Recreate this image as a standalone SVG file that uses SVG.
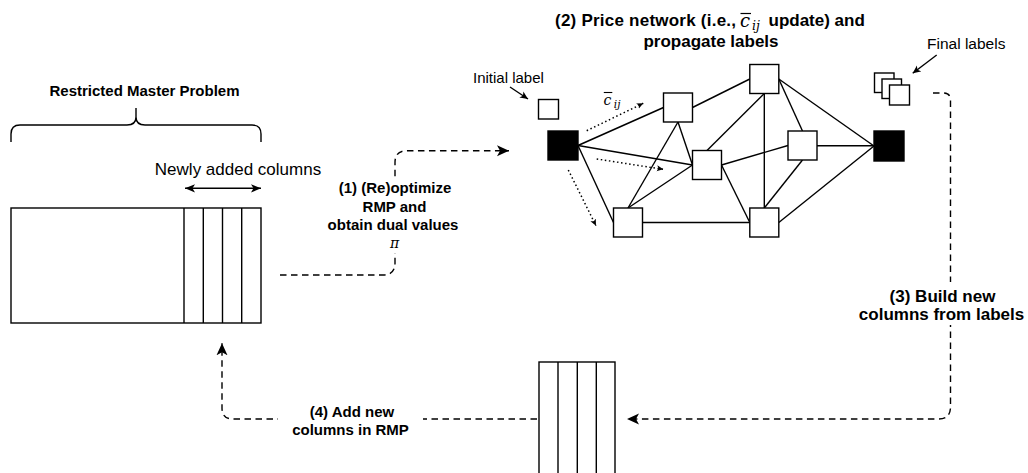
<svg xmlns="http://www.w3.org/2000/svg" width="1028" height="473" viewBox="0 0 1028 473">
<style>
.t{font-family:"Liberation Sans",Arial,Helvetica,sans-serif;fill:#000}
.b{font-weight:bold}
.m{font-family:"DejaVu Serif","Liberation Serif","Times New Roman",serif;font-style:italic;fill:#000}
.box{fill:#fff;stroke:#000;stroke-width:1.4}
.blk{fill:#000;stroke:#000;stroke-width:1.4}
.ln{fill:none;stroke:#000;stroke-width:1.4}
.edge{fill:none;stroke:#000;stroke-width:1.4}
.dash{fill:none;stroke:#000;stroke-width:1.4;stroke-dasharray:6.5 4.5}
.dot{fill:none;stroke:#000;stroke-width:1.5;stroke-dasharray:1.5 2.6}
.bg{fill:#fff;stroke:none}
</style>
<defs>
<marker id="ah" viewBox="0 0 12 12" refX="12" refY="6" markerWidth="12" markerHeight="12" markerUnits="userSpaceOnUse" orient="auto-start-reverse"><path d="M0,0.5 L12,6 L0,11.5 L3,6 Z" fill="#000"/></marker>
<marker id="ahm" viewBox="0 0 12 12" refX="12" refY="6" markerWidth="10" markerHeight="10" markerUnits="userSpaceOnUse" orient="auto-start-reverse"><path d="M0,1 L12,6 L0,11 L3,6 Z" fill="#000"/></marker>
<marker id="ahs" viewBox="0 0 12 12" refX="12" refY="6" markerWidth="8" markerHeight="8" markerUnits="userSpaceOnUse" orient="auto"><path d="M0,0.5 L12,6 L0,11.5 L3,6 Z" fill="#000"/></marker>
<marker id="ahd" viewBox="0 0 12 12" refX="12" refY="6" markerWidth="6.5" markerHeight="6.5" markerUnits="userSpaceOnUse" orient="auto"><path d="M0,0.5 L12,6 L0,11.5 L3,6 Z" fill="#000"/></marker>
</defs>

<g id="connectors">
  <!-- network edges -->
  <line class="edge" x1="578" y1="145.5" x2="663.5" y2="107.5"/>
  <line class="edge" x1="578" y1="145.5" x2="692.5" y2="165"/>
  <line class="edge" x1="578" y1="145.5" x2="613.5" y2="222.5"/>
  <line class="edge" x1="678" y1="122" x2="692.5" y2="165"/>
  <line class="edge" x1="678" y1="122" x2="628" y2="208"/>
  <line class="edge" x1="692.5" y1="165" x2="628" y2="208"/>
  <line class="edge" x1="642.5" y1="222.5" x2="749.8" y2="222.5"/>
  <line class="edge" x1="692.5" y1="107.5" x2="749.8" y2="79"/>
  <line class="edge" x1="707" y1="150.5" x2="764.3" y2="93.5"/>
  <line class="edge" x1="764.3" y1="93.5" x2="764.3" y2="208"/>
  <line class="edge" x1="778.8" y1="79" x2="802.5" y2="131"/>
  <line class="edge" x1="778.8" y1="79" x2="874" y2="146"/>
  <line class="edge" x1="721.5" y1="165" x2="788" y2="145.5"/>
  <line class="edge" x1="721.5" y1="165" x2="749.8" y2="222.5"/>
  <line class="edge" x1="817" y1="145.7" x2="874" y2="145.7"/>
  <line class="edge" x1="802.5" y1="160" x2="764.3" y2="208"/>
  <line class="edge" x1="778.8" y1="222.5" x2="874" y2="146"/>
  <!-- dotted price arrows -->
  <line class="dot" x1="586.7" y1="130.7" x2="643.3" y2="103.3" marker-end="url(#ahd)"/>
  <line class="dot" x1="596.7" y1="159" x2="663.3" y2="169.3" marker-end="url(#ahd)"/>
  <line class="dot" x1="568.3" y1="170" x2="596" y2="225.7" marker-end="url(#ahd)"/>
  <!-- pointer arrows -->
  <line class="ln" x1="510" y1="87" x2="528" y2="99" marker-end="url(#ahs)"/>
  <line class="ln" x1="936.7" y1="55" x2="912.7" y2="73.3" marker-end="url(#ahs)"/>
  <line class="ln" x1="185" y1="188.3" x2="261" y2="188.3" marker-start="url(#ahm)" marker-end="url(#ahm)"/>
  <!-- process flow -->
  <path class="dash" d="M280,275 H383 Q395,275 395,263 V162.5 Q395,150.7 407,150.7 H509" marker-end="url(#ah)"/>
  <path class="dash" d="M933,93 H943.5 Q950.5,93 950.5,100 V407 Q950.5,419 938.5,419 H627" marker-end="url(#ah)"/>
  <path class="dash" d="M537,419 H233 Q222,419 222,408 V343.3" marker-end="url(#ah)"/>
</g>

<g id="rmp">
  <rect class="box" x="11" y="208" width="250" height="115"/>
  <line class="ln" x1="184" y1="208" x2="184" y2="323"/>
  <line class="ln" x1="203.3" y1="208" x2="203.3" y2="323"/>
  <line class="ln" x1="222.5" y1="208" x2="222.5" y2="323"/>
  <line class="ln" x1="241.7" y1="208" x2="241.7" y2="323"/>
</g>

<g id="rmp-brace">
  <path class="ln" d="M11,142 V134 Q11,125 20,125 H127 Q136,125 136,117 Q136,125 145,125 H252 Q261,125 261,134 V142 M136,117 V108"/>
  <text class="t b" x="144.5" y="96" font-size="15" text-anchor="middle">Restricted Master Problem</text>
</g>

<g id="newly-added-label">
  <text class="t" x="238" y="175" font-size="17" text-anchor="middle">Newly added columns</text>
</g>

<g id="new-columns">
  <rect class="box" x="539" y="362" width="76" height="120"/>
  <line class="ln" x1="558" y1="362" x2="558" y2="482"/>
  <line class="ln" x1="577.3" y1="362" x2="577.3" y2="482"/>
  <line class="ln" x1="596.3" y1="362" x2="596.3" y2="482"/>
</g>

<g id="network-title">
  <text class="t b" x="555" y="26" font-size="17" textLength="181" lengthAdjust="spacing">(2) Price network (i.e.,</text>
  <text class="m" x="740" y="27" font-size="18">c</text>
  <line x1="740.5" y1="13.5" x2="751" y2="13.5" stroke="#000" stroke-width="1.2"/>
  <text class="m" x="752" y="29.5" font-size="12.5">ij</text>
  <text class="t b" x="768.5" y="26" font-size="17">update) and</text>
  <text class="t b" x="711" y="46.5" font-size="17" text-anchor="middle">propagate labels</text>
</g>

<g id="initial-label">
  <text class="t" x="473" y="82.5" font-size="15">Initial label</text>
  <rect class="box" x="538.5" y="99.5" width="20" height="19.5"/>
</g>

<g id="final-labels">
  <text class="t" x="927" y="49" font-size="15.5">Final labels</text>
  <rect class="box" x="874.5" y="73" width="19.5" height="19.5"/>
  <rect class="box" x="882" y="79" width="19.5" height="19.5"/>
  <rect class="box" x="889.5" y="85" width="20" height="20"/>
</g>

<g id="source"><rect class="blk" x="548" y="131" width="30" height="29"/></g>
<g id="sink"><rect class="blk" x="874" y="131" width="30" height="30"/></g>
<g id="node-a"><rect class="box" x="663.5" y="93" width="29" height="29"/></g>
<g id="node-b"><rect class="box" x="692.5" y="150.5" width="29" height="29"/></g>
<g id="node-c"><rect class="box" x="613.5" y="208" width="29" height="29"/></g>
<g id="node-d"><rect class="box" x="749.8" y="64.5" width="29" height="29"/></g>
<g id="node-e"><rect class="box" x="788" y="131" width="29" height="29"/></g>
<g id="node-f"><rect class="box" x="749.8" y="208" width="29" height="29"/></g>

<g id="cij-label">
  <text class="m" x="603.5" y="105" font-size="14">c</text>
  <line x1="603.8" y1="92.5" x2="612.3" y2="92.5" stroke="#000" stroke-width="1.1"/>
  <text class="m" x="613.8" y="107.5" font-size="10.5">ij</text>
</g>

<g id="step1-label">
  <rect class="bg" x="332" y="177" width="126" height="76"/>
  <text class="t b" x="395" y="193" font-size="15" text-anchor="middle">(1) (Re)optimize</text>
  <text class="t b" x="394.5" y="211.5" font-size="15" text-anchor="middle">RMP and</text>
  <text class="t b" x="393" y="230" font-size="15" text-anchor="middle">obtain dual values</text>
  <text class="m" x="394.7" y="248" font-size="14" text-anchor="middle">π</text>
</g>

<g id="step3-label">
  <rect class="bg" x="856" y="282" width="172" height="43"/>
  <text class="t b" x="942.5" y="301.5" font-size="17" text-anchor="middle">(3) Build new</text>
  <text class="t b" x="941.5" y="320" font-size="17" text-anchor="middle">columns from labels</text>
</g>

<g id="step4-label">
  <rect class="bg" x="278" y="403" width="145" height="38"/>
  <text class="t b" x="352" y="417" font-size="15" text-anchor="middle">(4) Add new</text>
  <text class="t b" x="350.5" y="435" font-size="15" text-anchor="middle">columns in RMP</text>
</g>
</svg>
